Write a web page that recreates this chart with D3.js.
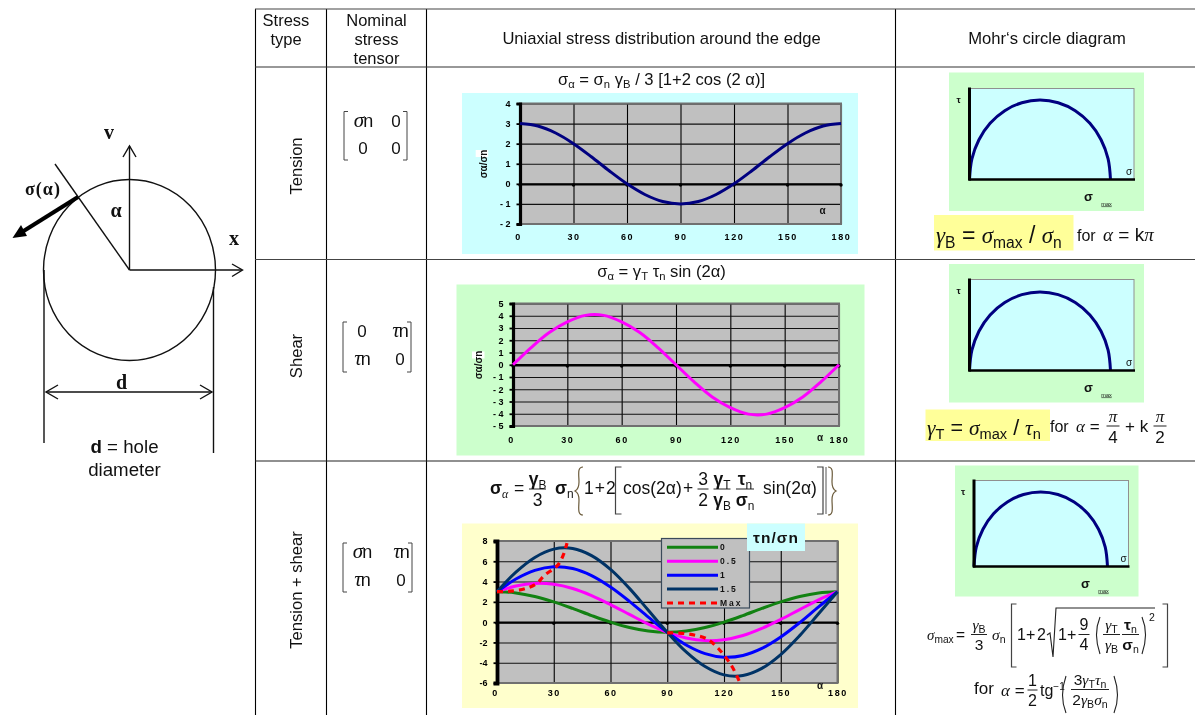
<!DOCTYPE html>
<html lang="en">
<head>
  <meta charset="UTF-8">
  <title>Stress around a circular hole</title>
  <style>
    *{ margin:0; padding:0; }
    body{ background:#fff; }
    svg{ display:block; filter:blur(0.45px); }
    text{ font-family:"Liberation Sans",Arial,sans-serif; fill:#111; }
  </style>
  <script src="https://cdn.jsdelivr.net/npm/d3@7/dist/d3.min.js"></script>
</head>
<body>
  <svg id="mainsvg"></svg>

  <script>
    // values
    const alphaTicks = [0,30,60,90,120,150,180];
    const alphaDeg = [0,10,20,30,40,50,60,70,80,90,100,110,120,130,140,150,160,170,180];

    const tensionVals = [3,2.88,2.53,2,1.35,0.65,0,-0.53,-0.88,-1,-0.88,-0.53,0,0.65,1.35,2,2.53,2.88,3];
    const shearVals = [0,1.4,2.63,3.5,4.03,4.03,3.5,2.63,1.4,0,-1.4,-2.63,-3.5,-4.03,-4.03,-3.5,-2.63,-1.4,0];

    const ratio0 = [3,2.88,2.53,2,1.35,0.65,0,-0.53,-0.88,-1,-0.88,-0.53,0,0.65,1.35,2,2.53,2.88,3];
    const ratio05 = [3,3.56,3.82,3.73,3.32,2.62,1.73,0.76,-0.2,-1,-1.56,-1.82,-1.73,-1.32,-0.62,0.27,1.24,2.2,3];
    const ratio1 = [3,4.25,5.1,5.46,5.29,4.59,3.46,2.05,0.49,-1,-2.25,-3.1,-3.46,-3.29,-2.59,-1.46,-0.05,1.51,3];
    const ratio15 = [3,4.93,6.38,7.2,7.26,6.56,5.2,3.33,1.17,-1,-2.93,-4.38,-5.2,-5.26,-4.56,-3.2,-1.33,0.83,3];

    // the Max curve comes in two separate pieces
    const maxAlphaA = [0,7,15,21,25,32,35,37];
    const maxValsA = [3,3.05,3.3,3.8,4.6,5.6,6.6,7.8];
    const maxAlphaB = [90,98,105,111,117,124,128];
    const maxValsB = [-1.05,-1.1,-1.3,-1.65,-2.6,-4.3,-5.8];

    const legendNames = ['0','0.5','1','1.5','Max'];

    // half circle in the Mohr plots, as fractions of sigma max and of its height
    const mohrSigma = [0,0.017,0.067,0.146,0.25,0.371,0.5,0.629,0.75,0.854,0.933,0.983,1];
    const mohrTau = [0,0.259,0.5,0.707,0.866,0.966,1,0.966,0.866,0.707,0.5,0.259,0];

    const svg = d3.select('#mainsvg').attr('width',1195).attr('height',715);
    const serif = '"Liberation Serif","Times New Roman",serif';

    // parts are plain strings or {t, sub, sup, i, b, serif, size}
    function put(g, x, y, parts, o = {}){
      const size = o.size || 14;
      const t = g.append('text').attr('x',x).attr('y',y)
        .attr('font-size',size)
        .attr('text-anchor',o.anchor || 'start')
        .attr('font-weight',o.bold ? 'bold' : 'normal');
      if(o.serif) t.style('font-family',serif);
      if(o.spacing) t.attr('letter-spacing',o.spacing);
      if(o.rotate) t.attr('transform',`rotate(${o.rotate},${x},${y})`);
      [].concat(parts).forEach(p => {
        if(typeof p === 'string') p = {t:p};
        const s = t.append('tspan').text(p.t);
        if(p.sub){ s.attr('font-size',size*0.68).attr('baseline-shift',-size*0.2); }
        if(p.sup){ s.attr('font-size',size*0.68).attr('baseline-shift',size*0.45); }
        if(p.size) s.attr('font-size',p.size);
        if(p.i) s.attr('font-style','italic');
        if(p.b) s.attr('font-weight','bold');
        if(p.serif) s.style('font-family',serif);
      });
      return t;
    }
    const gi = t => ({t, i:true, serif:true});           // italic greek
    const gis = t => ({t, i:false, sub:true});           // small sans subscript

    function rule(g, x1, y1, x2, y2, w = 1, col = '#222'){
      g.append('line').attr('x1',x1).attr('y1',y1).attr('x2',x2).attr('y2',y2)
        .attr('stroke',col).attr('stroke-width',w);
    }
    function outline(g, d, w = 1, col = '#222'){
      g.append('path').attr('d',d).attr('fill','none').attr('stroke',col).attr('stroke-width',w);
    }
    function frac(g, cx, yl, top, bot, w, size, lw = 1){
      rule(g, cx-w/2, yl, cx+w/2, yl, lw);
      put(g, cx, yl-4.5, top, {size, anchor:'middle'});
      put(g, cx, yl+size*0.98, bot, {size, anchor:'middle'});
    }
    function bracketL(g, x, y1, y2, w = 4, lw = 1){ outline(g, `M${x+w} ${y1}H${x}V${y2}H${x+w}`, lw, '#444'); }
    function bracketR(g, x, y1, y2, w = 4, lw = 1){ outline(g, `M${x-w} ${y1}H${x}V${y2}H${x-w}`, lw, '#444'); }

    /* ---------- table ---------- */
    const tableG = svg.append('g');
    [255.5,326.5,426.5,895.5].forEach(x => rule(tableG, x, 9, x, 715, 1.1, '#000'));
    [[9,'#444'],[67,'#333'],[259.5,'#444'],[461,'#222']].forEach(d => rule(tableG, 255, d[0], 1195, d[0], 1.1, d[1]));

    put(tableG, 286, 26, 'Stress', {size:16.5, anchor:'middle'});
    put(tableG, 286, 45, 'type', {size:16.5, anchor:'middle'});
    put(tableG, 376.5, 26, 'Nominal', {size:16.5, anchor:'middle'});
    put(tableG, 376.5, 45, 'stress', {size:16.5, anchor:'middle'});
    put(tableG, 376.5, 64, 'tensor', {size:16.5, anchor:'middle'});
    put(tableG, 661.5, 44, 'Uniaxial stress distribution around the edge', {size:16.6, anchor:'middle'});
    put(tableG, 1047, 44, 'Mohr‘s circle diagram', {size:16.6, anchor:'middle'});

    put(tableG, 302, 166, 'Tension', {size:16.6, anchor:'middle', rotate:-90});
    put(tableG, 302, 356, 'Shear', {size:16.6, anchor:'middle', rotate:-90});
    put(tableG, 302, 590, 'Tension + shear', {size:16.6, anchor:'middle', rotate:-90});

    // nominal stress tensors
    function matrix(x1, x2, y1, y2, cells){
      bracketL(tableG, x1, y1, y2, 4, 1);
      bracketR(tableG, x2, y1, y2, 4, 1);
      cells.forEach((row,r) => row.forEach((c,k) => {
        const cx = k === 0 ? x1+19 : x2-11;
        const cy = y1+15+r*27.5;
        if(c === '0') put(tableG, cx, cy, '0', {size:17, anchor:'middle'});
        else put(tableG, cx, cy, [{t:c, i:true, serif:true, size:21}, 'n'], {size:18, anchor:'middle', spacing:-1});
      }));
    }
    matrix(344, 407, 111.5, 160, [['σ','0'],['0','0']]);
    matrix(343, 411, 322, 372, [['0','τ'],['τ','0']]);
    matrix(343, 412, 543, 592, [['σ','τ'],['τ','0']]);

    /* ---------- hole sketch ---------- */
    const hole = svg.append('g');
    hole.append('ellipse').attr('cx',129.5).attr('cy',270).attr('rx',86).attr('ry',90.5)
      .attr('fill','none').attr('stroke','#111').attr('stroke-width',1.4);
    rule(hole, 129.5, 270, 129.5, 146, 1.4, '#111');
    outline(hole, 'M123 157L129.5 146L136 157', 1.4, '#111');
    rule(hole, 129.5, 270, 242, 270, 1.4, '#111');
    outline(hole, 'M232 264L242.5 270L232 276.5', 1.4, '#111');
    rule(hole, 129.5, 270, 55, 164, 1.4, '#111');
    rule(hole, 78, 197, 22, 232, 4, '#000');
    hole.append('path').attr('d','M12.5 238L21 225L27 236Z').attr('fill','#000');
    rule(hole, 44, 270, 44, 443, 1.4, '#111');
    rule(hole, 213.5, 287, 213.5, 453, 1.4, '#111');
    rule(hole, 46, 392, 212, 392, 1.4, '#111');
    outline(hole, 'M58 385L46 392L58 399', 1.4, '#111');
    outline(hole, 'M200 385L212 392L200 399', 1.4, '#111');
    put(hole, 109, 139, 'v', {size:20, bold:true, serif:true, anchor:'middle'});
    put(hole, 234, 245, 'x', {size:20, bold:true, serif:true, anchor:'middle'});
    put(hole, 43, 195, 'σ(α)', {size:18, bold:true, serif:true, anchor:'middle', spacing:1});
    put(hole, 116, 217, 'α', {size:20, bold:true, serif:true, anchor:'middle'});
    put(hole, 121.5, 389, 'd', {size:20, bold:true, serif:true, anchor:'middle'});
    put(hole, 124.5, 453, [{t:'d', b:true},' = hole'], {size:18.7, anchor:'middle'});
    put(hole, 124.5, 476, 'diameter', {size:18.7, anchor:'middle'});

    /* ---------- stress charts ---------- */
    function stressChart(c){
      const g = svg.append('g');
      g.append('rect').attr('x',c.bg[0]).attr('y',c.bg[1]).attr('width',c.bg[2]).attr('height',c.bg[3]).attr('fill',c.bgCol);

      const x = d3.scaleLinear().domain([0,180]).range([c.x0,c.x1]);
      const y = d3.scaleLinear().domain(c.yDomain).range([c.yB,c.yT]);
      const w = c.x1-c.x0, h = c.yB-c.yT;
      const fmt = d => d < 0 ? (c.tightMinus ? '-' : '- ')+(-d) : d;

      g.append('rect').attr('x',c.x0).attr('y',c.yT).attr('width',w).attr('height',h).attr('fill','#c0c0c0');

      // grid from the axes
      const gridX = g.append('g').attr('transform',`translate(0,${c.yB})`)
        .call(d3.axisBottom(x).tickValues(alphaTicks).tickSize(-h).tickFormat(''));
      const gridY = g.append('g').attr('transform',`translate(${c.x0},0)`)
        .call(d3.axisLeft(y).tickValues(c.yTicks).tickSize(-w).tickFormat(''));
      gridX.select('.domain').remove();
      gridY.select('.domain').remove();
      gridX.selectAll('line').attr('stroke','#000').attr('stroke-width',1.1);
      gridY.selectAll('line').attr('stroke','#111').attr('stroke-width',1.1);

      g.append('rect').attr('x',c.x0).attr('y',c.yT).attr('width',w).attr('height',h)
        .attr('fill','none').attr('stroke','#707070').attr('stroke-width',2);

      const xLabels = g.append('g').attr('transform',`translate(0,${c.yB})`)
        .call(d3.axisBottom(x).tickValues(alphaTicks).tickSize(0).tickPadding(c.xPad));
      xLabels.select('.domain').remove();
      xLabels.selectAll('text').attr('font-size',9).attr('font-weight','bold').attr('letter-spacing',1.6)
        .attr('dx',d => d === 0 ? -2 : 0).style('font-family','"Liberation Sans",sans-serif').style('fill','#000');

      const yAxis = g.append('g').attr('transform',`translate(${c.x0},0)`)
        .call(d3.axisLeft(y).tickValues(c.yTicks).tickSize(3.5).tickPadding(6).tickFormat(fmt));
      yAxis.select('.domain').attr('stroke','#000').attr('stroke-width',c.axisW);
      yAxis.selectAll('line').attr('stroke','#000').attr('stroke-width',1.8);
      yAxis.selectAll('text').attr('font-size',9).attr('font-weight','bold')
        .style('font-family','"Liberation Sans",sans-serif').style('fill','#000');

      // zero line with its little tick dots
      const zero = g.append('g').attr('transform',`translate(0,${y(0)})`)
        .call(d3.axisBottom(x).tickValues(alphaTicks).tickSize(0).tickFormat(''));
      zero.select('.domain').attr('stroke','#000').attr('stroke-width',2.4);
      g.append('g').selectAll('circle').data(alphaTicks).join('circle')
        .attr('cx',d => x(d)).attr('cy',y(0)+1.2).attr('r',1.7).attr('fill','#000');

      const line = d3.line().x(d => x(d[0])).y(d => y(d[1])).curve(d3.curveCatmullRom);
      c.series.forEach(s => {
        g.append('path').datum(d3.zip(s.xs,s.ys)).attr('d',line)
          .attr('fill','none').attr('stroke',s.col).attr('stroke-width',s.w || 3)
          .attr('stroke-dasharray',s.dash || null).attr('stroke-linejoin','round');
      });

      put(g, c.alphaAt[0], c.alphaAt[1], 'α', {size:10, bold:true, anchor:'middle'});
      if(c.yTitleAt){
        const [tx,ty,bx,by] = c.yTitleAt;
        g.append('rect').attr('x',bx).attr('y',by).attr('width',12.5).attr('height',7).attr('fill','#fff');
        put(g, tx, ty, 'σα/σn', {size:10, bold:true, anchor:'middle', rotate:-90});
      }
      return {g, x, y};
    }

    stressChart({
      bg:[462,93,396,161], bgCol:'#ccffff',
      x0:520, x1:841, yB:224, yT:103.5, yDomain:[-2,4], yTicks:[-2,-1,0,1,2,3,4],
      xPad:10, axisW:3.2, alphaAt:[822.5,214], yTitleAt:[487,164,475.7,150],
      series:[{xs:alphaDeg, ys:tensionVals, col:'#000080'}]
    });
    stressChart({
      bg:[456.5,284.5,408,171], bgCol:'#ccffcc',
      x0:513, x1:839, yB:426, yT:303.5, yDomain:[-5,5], yTicks:[-5,-4,-3,-2,-1,0,1,2,3,4,5],
      xPad:11, axisW:3.2, alphaAt:[820,441], yTitleAt:[482,365,472,351.5],
      series:[{xs:alphaDeg, ys:shearVals, col:'#ff00ff'}]
    });

    const comb = stressChart({
      bg:[462,523.5,396,184.5], bgCol:'#ffffcc',
      x0:497, x1:837.5, yB:683, yT:541, yDomain:[-6,8], yTicks:[-6,-4,-2,0,2,4,6,8],
      xPad:7, axisW:3.8, tightMinus:true, alphaAt:[820,689],
      series:[
        {xs:alphaDeg, ys:ratio0, col:'#128212'},
        {xs:alphaDeg, ys:ratio05, col:'#ff00ff'},
        {xs:alphaDeg, ys:ratio1, col:'#0000ff'},
        {xs:alphaDeg, ys:ratio15, col:'#003366'},
        {xs:maxAlphaA, ys:maxValsA, col:'#ff0000', dash:'6 5', w:3.2},
        {xs:maxAlphaB, ys:maxValsB, col:'#ff0000', dash:'6 5', w:3.2}
      ]
    });

    // legend of the combined chart
    const legendStyle = [['#128212',null],['#ff00ff',null],['#0000ff',null],['#003366',null],['#ff0000','6 5']];
    const lg = comb.g.append('g');
    lg.append('rect').attr('x',661.5).attr('y',538.5).attr('width',88).attr('height',69.5)
      .attr('fill','#c0c0c0').attr('stroke','#3a4a5a').attr('stroke-width',1.2);
    const legendY = d3.scalePoint().domain(legendNames).range([547.3,603]);
    legendNames.forEach((n,i) => {
      rule(lg, 667, legendY(n), 718, legendY(n), 3, legendStyle[i][0]);
      if(legendStyle[i][1]) lg.select('line:last-of-type').attr('stroke-dasharray',legendStyle[i][1]);
      put(lg, 720, legendY(n)+3, n, {size:8.5, bold:true, spacing:2});
    });
    comb.g.append('rect').attr('x',747).attr('y',523.5).attr('width',58).attr('height',27.5).attr('fill','#ccffff');
    put(comb.g, 776, 543, ['τn/σn'], {size:15.5, bold:true, anchor:'middle', spacing:1});

    /* ---------- Mohr plots ---------- */
    function mohr(m){
      const g = svg.append('g');
      g.append('rect').attr('x',m.bg[0]).attr('y',m.bg[1]).attr('width',m.bg[2]).attr('height',m.bg[3]).attr('fill','#ccffcc');
      g.append('rect').attr('x',m.x0).attr('y',m.yT).attr('width',m.x1-m.x0).attr('height',m.yB-m.yT)
        .attr('fill','#ccffff').attr('stroke','#909090').attr('stroke-width',1);
      const x = d3.scaleLinear().domain([0,1]).range([m.x0,m.xMax]);
      const y = d3.scaleLinear().domain([0,1]).range([m.yB,m.yTop]);
      const line = d3.line().x(d => x(d[0])).y(d => y(d[1])).curve(d3.curveCatmullRom);
      g.append('path').datum(d3.zip(mohrSigma,mohrTau)).attr('d',line)
        .attr('fill','none').attr('stroke','#000080').attr('stroke-width',3);
      rule(g, m.x0, m.yT-1, m.x0, m.yB+1, 3, '#000');
      rule(g, m.x0-1, m.yB, m.x1+1, m.yB, 2.4, '#000');
      put(g, m.x0-11, m.yT+14, 'τ', {size:9.5, bold:true, anchor:'middle'});
      put(g, m.x1-5, m.yB-5, 'σ', {size:10, anchor:'middle'});
      put(g, m.xMax-22, m.yB+21, 'σ', {size:13, bold:true, anchor:'middle'});
      put(g, m.xMax-4, m.yB+26, 'max', {size:5.5, anchor:'middle'}).attr('text-decoration','underline');
    }
    mohr({bg:[949,72.5,195,138.5], x0:969.5, x1:1134, xMax:1110.5, yT:88.5, yB:179.5, yTop:100});
    mohr({bg:[949,264,195,138.5], x0:969.5, x1:1134, xMax:1110.5, yT:279.5, yB:370.5, yTop:292});
    mohr({bg:[955,465.5,183.5,131], x0:974, x1:1128.5, xMax:1107.5, yT:480.5, yB:566.5, yTop:492});

    /* ---------- formulas ---------- */
    const fm = svg.append('g');

    put(fm, 661.5, 85, ['σ',gis('α'),' = σ',gis('n'),' γ',gis('B'),' / 3 [1+2 cos (2 α)]'], {size:16.6, anchor:'middle'});
    put(fm, 661.5, 277, ['σ',gis('α'),' = γ',gis('T'),' τ',gis('n'),' sin (2α)'], {size:16.6, anchor:'middle'});

    // tension + shear stress
    const fs = 17.5;
    put(fm, 490, 494, [{t:'σ', b:true}, {...gi('α'), sub:true}], {size:fs});
    put(fm, 514, 494, '=', {size:fs});
    frac(fm, 537.5, 489, [{t:'γ', b:true},{t:'B', sub:true}], '3', 17, fs);
    put(fm, 555, 494, [{t:'σ', b:true},{t:'n', sub:true}], {size:fs});
    outline(fm, 'M583 467C577 467 579 475 579 482C579 488 577 490 575 491C577 492 579 494 579 500C579 507 577 515 583 515', 1.2, '#6a5a3a');
    put(fm, 584, 494, '1+', {size:fs}).attr('letter-spacing',1);
    put(fm, 606, 494, '2', {size:fs});
    bracketL(fm, 615.5, 467, 514, 6, 1.2);
    put(fm, 623, 494, 'cos(2α)', {size:fs});
    put(fm, 683, 494, '+', {size:fs});
    frac(fm, 703, 489, '3', '2', 11, fs);
    frac(fm, 722, 489, [{t:'γ', b:true},{t:'T', sub:true}], [{t:'γ', b:true},{t:'B', sub:true}], 17, fs);
    frac(fm, 745, 489, [{t:'τ', b:true},{t:'n', sub:true}], [{t:'σ', b:true},{t:'n', sub:true}], 18, fs);
    put(fm, 763, 494, 'sin(2α)', {size:fs});
    bracketR(fm, 823, 467, 514, 6, 1.2);
    rule(fm, 826, 467, 826, 514, 1, '#555');
    outline(fm, 'M828 467C834 467 832 475 832 482C832 488 834 490 836 491C834 492 832 494 832 500C832 507 834 515 828 515', 1.2, '#6a5a3a');

    // gamma B
    fm.append('rect').attr('x',934).attr('y',215).attr('width',139.5).attr('height',35.5).attr('fill','#ffff99');
    put(fm, 936, 243, [gi('γ'),{t:'B', sub:true},' = ',gi('σ'),{t:'max', sub:true},' / ',gi('σ'),{t:'n', sub:true}], {size:23});
    put(fm, 1077, 241, 'for', {size:16});
    put(fm, 1103, 241, [gi('α'),' = k',gi('π')], {size:19});

    // gamma T
    fm.append('rect').attr('x',925.5).attr('y',409.5).attr('width',124.5).attr('height',31.5).attr('fill','#ffff99');
    put(fm, 927, 435, [gi('γ'),{t:'T', sub:true},' = ',gi('σ'),{t:'max', sub:true},' / ',gi('τ'),{t:'n', sub:true}], {size:21.5});
    put(fm, 1050, 432, 'for', {size:16});
    put(fm, 1076, 432, [gi('α'),' ='], {size:17});
    frac(fm, 1113, 426, [gi('π')], '4', 13, 17);
    put(fm, 1125, 432, '+ k', {size:17});
    frac(fm, 1160, 426, [gi('π')], '2', 13, 17);

    // sigma max
    put(fm, 927, 640, [gi('σ'),{t:'max', sub:true}], {size:15});
    put(fm, 956, 640, '=', {size:15.5});
    frac(fm, 979, 634.5, [gi('γ'),{t:'B', sub:true}], '3', 16, 15.5);
    put(fm, 992, 640, [gi('σ'),{t:'n', sub:true}], {size:15.5});
    bracketL(fm, 1011.5, 604, 667, 5, 1.2);
    put(fm, 1017, 640, '1+', {size:16});
    put(fm, 1037, 640, '2', {size:16});
    outline(fm, 'M1047 635L1050 633L1053 657L1056 608H1155', 1.1, '#222');
    put(fm, 1058, 640, '1+', {size:16});
    frac(fm, 1084, 634.5, '9', '4', 11, 16);
    outline(fm, 'M1100 617Q1093 634 1100 654', 1.1);
    frac(fm, 1111.5, 634.5, [gi('γ'),{t:'T', sub:true}], [gi('γ'),{t:'B', sub:true}], 17, 15.5);
    frac(fm, 1130.5, 634.5, [{t:'τ', b:true},{t:'n', sub:true}], [{t:'σ', b:true},{t:'n', sub:true}], 17, 15.5);
    outline(fm, 'M1142 617Q1149 634 1142 654', 1.1);
    put(fm, 1149, 621, '2', {size:10.5});
    bracketR(fm, 1167.5, 604, 667, 5, 1.2);

    put(fm, 974, 694, 'for', {size:17});
    put(fm, 1001, 696, [gi('α'),' ='], {size:17});
    frac(fm, 1032.5, 690, '1', '2', 10, 16);
    put(fm, 1040, 696, ['tg',{t:'−1', size:10}], {size:16}).select('tspan:last-child').attr('baseline-shift',6);
    outline(fm, 'M1066 676Q1059 696 1066 713', 1.1);
    frac(fm, 1090, 689.5, ['3',gi('γ'),{t:'T', sub:true},gi('τ'),{t:'n', sub:true}], ['2',gi('γ'),{t:'B', sub:true},gi('σ'),{t:'n', sub:true}], 38, 15.5);
    outline(fm, 'M1114 676Q1121 696 1114 713', 1.1);
  </script>
</body>
</html>
